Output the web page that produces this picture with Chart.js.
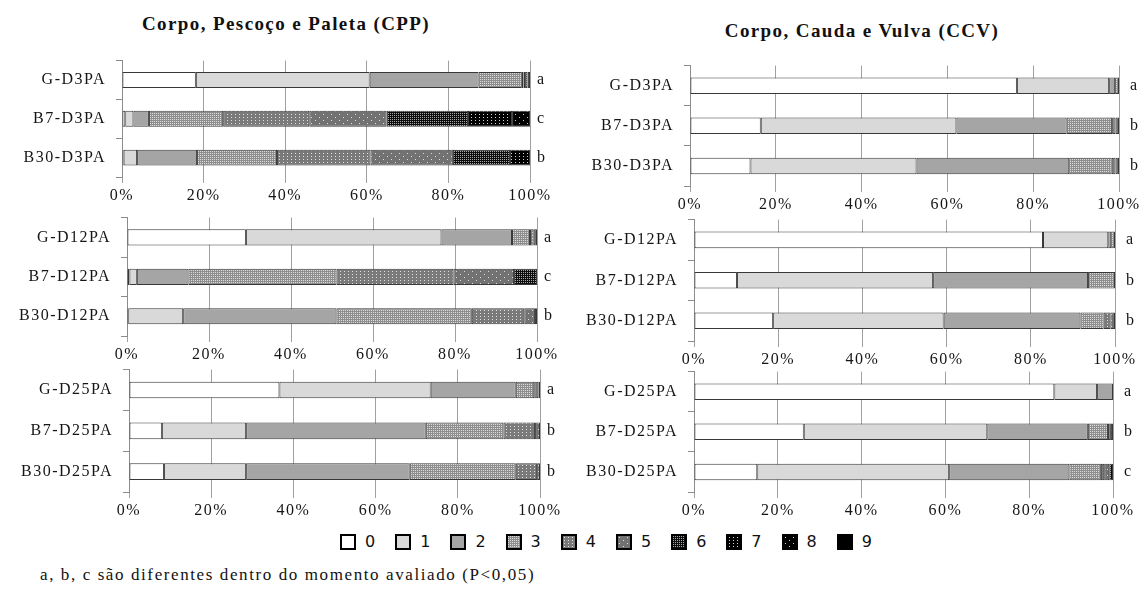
<!DOCTYPE html>
<html>
<head>
<meta charset="utf-8">
<script src="https://cdn.jsdelivr.net/npm/chart.js@4.4.1/dist/chart.umd.min.js"></script>
<style>
  html, body { margin: 0; padding: 0; background: #fff; }
  body { width: 1144px; height: 590px; position: relative; overflow: hidden; color: #111; }
  canvas.panel { position: absolute; }
  .title { position: absolute; transform: translateX(-50%); white-space: nowrap;
           font: bold 19px "Liberation Serif", "Times New Roman", serif; letter-spacing: 1.4px; line-height: 22px; }
  #legend { position: absolute; left: 340px; top: 533px; display: flex; align-items: center;
            font: 16px "DejaVu Sans", sans-serif; line-height: 17px; }
  #legend .item { display: flex; align-items: center; margin-right: 20px; }
  #legend canvas { width: 12px; height: 12px; border: 2px solid #000; margin-right: 9px; display: block; }
  #note { position: absolute; left: 40px; top: 565px; white-space: nowrap;
          font: 17px "Liberation Serif", "Times New Roman", serif; letter-spacing: 1.6px; }
</style>
</head>
<body>
<div class="title" style="left:286px;top:13px">Corpo, Pescoço e Paleta (CPP)</div>
<div class="title" style="left:862px;top:20px">Corpo, Cauda e Vulva (CCV)</div>
<canvas id="cppD3" class="panel"></canvas>
<canvas id="ccvD3" class="panel"></canvas>
<canvas id="cppD12" class="panel"></canvas>
<canvas id="ccvD12" class="panel"></canvas>
<canvas id="cppD25" class="panel"></canvas>
<canvas id="ccvD25" class="panel"></canvas>
<div id="legend"></div>
<div id="note">a, b, c são diferentes dentro do momento avaliado (P&lt;0,05)</div>

<script>
// Lesion scores 0–9 and the percentage axis
const SCORES = ['0', '1', '2', '3', '4', '5', '6', '7', '8', '9'];
const X_TICKS = [0, 20, 40, 60, 80, 100];

// Groups per evaluation day
const LABELS_D3 = ['G-D3PA', 'B7-D3PA', 'B30-D3PA'];
const LABELS_D12 = ['G-D12PA', 'B7-D12PA', 'B30-D12PA'];
const LABELS_D25 = ['G-D25PA', 'B7-D25PA', 'B30-D25PA'];

// Share of animals (%) in each score 0..9, one row per group
const CPP_D3 = [
  [18.1, 42.6, 26.7, 10.6, 0.4, 0.4, 0.6, 0.6, 0, 0],
  [0.8, 2.0, 3.8, 18.2, 21.1, 18.9, 20.0, 10.8, 4.4, 0],
  [0.4, 3.3, 14.7, 19.6, 22.9, 20.2, 14.0, 4.9, 0, 0]
];
const CCV_D3 = [
  [76.2, 21.5, 1.4, 0.9, 0, 0, 0, 0, 0, 0],
  [16.5, 45.6, 25.7, 10.6, 0.8, 0.8, 0, 0, 0, 0],
  [14.1, 38.7, 35.6, 9.9, 0.9, 0.8, 0, 0, 0, 0]
];
const CPP_D12 = [
  [29.0, 47.7, 17.2, 4.4, 0.9, 0.8, 0, 0, 0, 0],
  [0.6, 1.8, 12.6, 36.1, 28.5, 14.8, 5.6, 0, 0, 0],
  [0.3, 13.4, 37.4, 33.0, 12.8, 2.6, 0.5, 0, 0, 0]
];
const CCV_D12 = [
  [82.9, 15.5, 0.7, 0.9, 0, 0, 0, 0, 0, 0],
  [10.2, 46.6, 36.8, 6.4, 0, 0, 0, 0, 0, 0],
  [18.8, 40.5, 32.5, 5.5, 1.6, 1.1, 0, 0, 0, 0]
];
const CPP_D25 = [
  [36.6, 36.8, 20.7, 4.5, 1.0, 0.4, 0, 0, 0, 0],
  [8.0, 20.5, 43.7, 18.9, 7.7, 1.2, 0, 0, 0, 0],
  [8.5, 20.0, 39.8, 25.8, 5.2, 0.7, 0, 0, 0, 0]
];
const CCV_D25 = [
  [86.0, 10.2, 3.8, 0, 0, 0, 0, 0, 0, 0],
  [26.2, 43.8, 24.0, 4.8, 0.7, 0.5, 0, 0, 0, 0],
  [15.1, 45.8, 28.7, 7.5, 0.8, 1.2, 0.9, 0, 0, 0]
];

// Significance letters per group
const SIG_CPP_D3 = ['a', 'c', 'b'];
const SIG_CCV_D3 = ['a', 'b', 'b'];
const SIG_CPP_D12 = ['a', 'c', 'b'];
const SIG_CCV_D12 = ['a', 'b', 'b'];
const SIG_CPP_D25 = ['a', 'b', 'b'];
const SIG_CCV_D25 = ['a', 'b', 'c'];

// Grey-scale fills; the higher scores use dotted textures
function tile(base, dot, w, h, pts) {
  const c = document.createElement('canvas');
  c.width = w; c.height = h;
  const g = c.getContext('2d');
  g.fillStyle = base; g.fillRect(0, 0, w, h);
  g.fillStyle = dot;
  pts.forEach(p => g.fillRect(p[0], p[1], 1, 1));
  return g.createPattern(c, 'repeat');
}
const FILLS = [
  '#ffffff',
  '#d9d9d9',
  '#a5a5a5',
  tile('#8e8e8e', '#dcdcdc', 2, 2, [[0, 0]]),
  tile('#7a7a7a', '#e2e2e2', 4, 3, [[1, 1]]),
  tile('#727272', '#dedede', 8, 6, [[1, 1], [5, 4]]),
  tile('#0d0d0d', '#a8a8a8', 2, 2, [[0, 0]]),
  tile('#000000', '#d4d4d4', 4, 3, [[1, 1]]),
  tile('#000000', '#d0d0d0', 8, 6, [[1, 1], [5, 4]]),
  '#000000'
];

const SERIF = '"Liberation Serif", "Times New Roman", serif';
const TEXT = '#151515';
const GRID = '#a0a0a0';
const AXIS = '#8c8c8c';

// widened glyph spacing for all chart text
const spacing = {
  id: 'spacing',
  beforeDraw(chart) { chart.ctx.letterSpacing = '1.5px'; }
};

// fixed axis sizes so each plot area lands where it should
const YW = 120, XH = 34, PT = 6;

function panel(id, box, labels, rows, sig, rw, sigPad) {
  const cv = document.getElementById(id);
  const w = YW + (box.r - box.l) + rw;
  const h = PT + (box.b - box.t) + XH;
  cv.width = w; cv.height = h;
  cv.style.left = (box.l - YW) + 'px';
  cv.style.top = (box.t - PT) + 'px';
  cv.style.width = w + 'px';
  cv.style.height = h + 'px';

  const datasets = SCORES.map((s, k) => ({
    label: s,
    data: rows.map(r => r[k]),
    backgroundColor: FILLS[k],
    borderColor: '#383838',
    borderWidth: 1,
    borderSkipped: false,
    categoryPercentage: 0.41,
    barPercentage: 1,
    yAxisID: 'y',
    clip: false
  }));

  return new Chart(cv, {
    type: 'bar',
    data: { labels, datasets },
    options: {
      indexAxis: 'y',
      responsive: false,
      animation: false,
      devicePixelRatio: 1,
      layout: { padding: { top: PT, left: 0, right: 0, bottom: 0 } },
      plugins: { legend: { display: false }, tooltip: { enabled: false } },
      scales: {
        x: {
          type: 'linear', stacked: true, min: 0, max: 100,
          afterBuildTicks: s => { s.ticks = X_TICKS.map(v => ({ value: v })); },
          ticks: { callback: v => v + '%', font: { family: SERIF, size: 16 }, color: TEXT, padding: 3, maxRotation: 0, autoSkip: false },
          grid: { color: GRID, lineWidth: 1, tickLength: 6 },
          border: { display: false },
          afterFit: s => { s.height = XH; }
        },
        y: {
          type: 'category', stacked: true, position: 'left', offset: true,
          ticks: { font: { family: SERIF, size: 16 }, color: TEXT, padding: 10 },
          grid: { drawOnChartArea: false, offset: true, tickLength: 6, color: AXIS },
          border: { display: true, color: AXIS, width: 1 },
          afterFit: s => { s.width = YW; }
        },
        y2: {
          type: 'category', labels: sig, position: 'right', offset: true, display: true,
          ticks: { font: { family: SERIF, size: 16 }, color: TEXT, padding: sigPad },
          grid: { display: false, drawTicks: false },
          border: { display: false },
          afterFit: s => { s.width = rw; }
        }
      }
    },
    plugins: [spacing]
  });
}

panel('cppD3', { l: 122, r: 530, t: 47, b: 177 }, LABELS_D3, CPP_D3, SIG_CPP_D3, 26, 7);
panel('ccvD3', { l: 690, r: 1119, t: 51, b: 186 }, LABELS_D3, CCV_D3, SIG_CCV_D3, 25, 11);
panel('cppD12', { l: 127, r: 537, t: 204, b: 336 }, LABELS_D12, CPP_D12, SIG_CPP_D12, 26, 7);
panel('ccvD12', { l: 694, r: 1115, t: 205, b: 341 }, LABELS_D12, CCV_D12, SIG_CCV_D12, 29, 11);
panel('cppD25', { l: 129, r: 540, t: 356, b: 492 }, LABELS_D25, CPP_D25, SIG_CPP_D25, 26, 7);
panel('ccvD25', { l: 694, r: 1113, t: 357, b: 492 }, LABELS_D25, CCV_D25, SIG_CCV_D25, 31, 11);

// shared legend of the scores
const legend = document.getElementById('legend');
SCORES.forEach((s, k) => {
  const item = document.createElement('div');
  item.className = 'item';
  const sw = document.createElement('canvas');
  sw.width = 12; sw.height = 12;
  const g = sw.getContext('2d');
  g.fillStyle = FILLS[k];
  g.fillRect(0, 0, 12, 12);
  const t = document.createElement('span');
  t.textContent = s;
  item.appendChild(sw);
  item.appendChild(t);
  legend.appendChild(item);
});
</script>
</body>
</html>
